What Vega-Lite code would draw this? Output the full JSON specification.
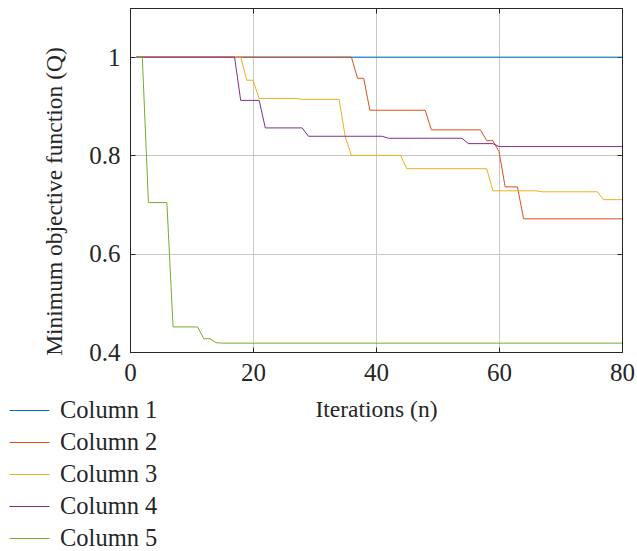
{
  "$schema": "https://vega.github.io/schema/vega-lite/v6.json",
  "width": 492,
  "height": 344,
  "autosize": {"type": "none"},
  "padding": {"left": 130, "top": 8, "right": 15, "bottom": 199},
  "background": "white",
  "config": {
    "font": "Liberation Serif",
    "view": {"stroke": "#262626", "strokeWidth": 1},
    "axis": {
      "labelFont": "Liberation Serif",
      "titleFont": "Liberation Serif",
      "labelFontSize": 25,
      "titleFontSize": 23.5,
      "labelColor": "#262626",
      "titleColor": "#262626",
      "titleFontWeight": "normal",
      "domainColor": "#262626",
      "tickColor": "#262626",
      "gridColor": "#c8c8c8",
      "gridOpacity": 1
    },
    "legend": {
      "labelFont": "Liberation Serif",
      "labelFontSize": 24.5,
      "labelColor": "#262626"
    }
  },
  "data": {
    "values": [
      {"n": 1, "v": 1, "s": "Column 1"},
      {"n": 80, "v": 1, "s": "Column 1"},

      {"n": 1, "v": 1, "s": "Column 2"},
      {"n": 36, "v": 1, "s": "Column 2"},
      {"n": 37, "v": 0.957, "s": "Column 2"},
      {"n": 38, "v": 0.957, "s": "Column 2"},
      {"n": 39, "v": 0.892, "s": "Column 2"},
      {"n": 48, "v": 0.892, "s": "Column 2"},
      {"n": 49, "v": 0.852, "s": "Column 2"},
      {"n": 57, "v": 0.852, "s": "Column 2"},
      {"n": 58, "v": 0.830, "s": "Column 2"},
      {"n": 59, "v": 0.830, "s": "Column 2"},
      {"n": 60, "v": 0.808, "s": "Column 2"},
      {"n": 61, "v": 0.736, "s": "Column 2"},
      {"n": 63, "v": 0.736, "s": "Column 2"},
      {"n": 64, "v": 0.671, "s": "Column 2"},
      {"n": 80, "v": 0.671, "s": "Column 2"},

      {"n": 1, "v": 1, "s": "Column 3"},
      {"n": 18, "v": 1, "s": "Column 3"},
      {"n": 19, "v": 0.953, "s": "Column 3"},
      {"n": 20, "v": 0.953, "s": "Column 3"},
      {"n": 21, "v": 0.916, "s": "Column 3"},
      {"n": 27, "v": 0.916, "s": "Column 3"},
      {"n": 28, "v": 0.914, "s": "Column 3"},
      {"n": 34, "v": 0.914, "s": "Column 3"},
      {"n": 35, "v": 0.838, "s": "Column 3"},
      {"n": 36, "v": 0.800, "s": "Column 3"},
      {"n": 44, "v": 0.800, "s": "Column 3"},
      {"n": 45, "v": 0.773, "s": "Column 3"},
      {"n": 58, "v": 0.773, "s": "Column 3"},
      {"n": 59, "v": 0.728, "s": "Column 3"},
      {"n": 66, "v": 0.728, "s": "Column 3"},
      {"n": 67, "v": 0.726, "s": "Column 3"},
      {"n": 76, "v": 0.726, "s": "Column 3"},
      {"n": 77, "v": 0.710, "s": "Column 3"},
      {"n": 80, "v": 0.710, "s": "Column 3"},

      {"n": 1, "v": 1, "s": "Column 4"},
      {"n": 17, "v": 1, "s": "Column 4"},
      {"n": 18, "v": 0.912, "s": "Column 4"},
      {"n": 21, "v": 0.912, "s": "Column 4"},
      {"n": 22, "v": 0.856, "s": "Column 4"},
      {"n": 28, "v": 0.856, "s": "Column 4"},
      {"n": 29, "v": 0.839, "s": "Column 4"},
      {"n": 41, "v": 0.839, "s": "Column 4"},
      {"n": 42, "v": 0.835, "s": "Column 4"},
      {"n": 54, "v": 0.835, "s": "Column 4"},
      {"n": 55, "v": 0.824, "s": "Column 4"},
      {"n": 59, "v": 0.824, "s": "Column 4"},
      {"n": 60, "v": 0.818, "s": "Column 4"},
      {"n": 80, "v": 0.818, "s": "Column 4"},

      {"n": 1, "v": 1, "s": "Column 5"},
      {"n": 2, "v": 1, "s": "Column 5"},
      {"n": 3, "v": 0.704, "s": "Column 5"},
      {"n": 6, "v": 0.704, "s": "Column 5"},
      {"n": 7, "v": 0.451, "s": "Column 5"},
      {"n": 11, "v": 0.451, "s": "Column 5"},
      {"n": 12, "v": 0.427, "s": "Column 5"},
      {"n": 13, "v": 0.427, "s": "Column 5"},
      {"n": 14, "v": 0.419, "s": "Column 5"},
      {"n": 15, "v": 0.418, "s": "Column 5"},
      {"n": 80, "v": 0.418, "s": "Column 5"}
    ]
  },
  "layer": [
    {
      "mark": {"type": "line", "strokeWidth": 1, "clip": true},
      "encoding": {
        "x": {
          "field": "n", "type": "quantitative",
          "scale": {"domain": [0, 80], "nice": false},
          "axis": {"values": [0, 20, 40, 60, 80], "format": "d", "title": "Iterations (n)", "tickSize": -5, "labelPadding": 13, "titlePadding": 12, "labelFlush": false, "grid": true}
        },
        "y": {
          "field": "v", "type": "quantitative",
          "scale": {"domain": [0.4, 1.1], "nice": false, "zero": false},
          "axis": {"values": [0.4, 0.6, 0.8, 1], "format": "~g", "title": "Minimum objective function (Q)", "titleY": 193, "tickSize": -5, "labelPadding": 15, "titlePadding": 22, "labelFlush": false, "grid": true}
        },
        "color": {
          "field": "s", "type": "nominal",
          "scale": {"domain": ["Column 1", "Column 2", "Column 3", "Column 4", "Column 5"], "range": ["#0072BD", "#D95319", "#EDB120", "#7E2F8E", "#77AC30"]},
          "legend": {"title": null, "orient": "none", "legendX": -121, "legendY": 382, "symbolType": "stroke", "symbolSize": 1600, "symbolStrokeWidth": 1, "labelOffset": 10, "rowPadding": -12}
        },
        "order": {"field": "n", "type": "quantitative"}
      }
    },
    {
      "mark": {"type": "line", "strokeOpacity": 0},
      "encoding": {
        "x": {
          "field": "n", "type": "quantitative",
          "axis": {"orient": "top", "values": [0, 20, 40, 60, 80], "labels": false, "title": null, "tickSize": -5, "grid": false}
        },
        "y": {
          "field": "v", "type": "quantitative",
          "axis": {"orient": "right", "values": [0.4, 0.6, 0.8, 1], "labels": false, "title": null, "tickSize": -5, "grid": false}
        },
        "detail": {"field": "s"}
      }
    }
  ],
  "resolve": {"axis": {"x": "independent", "y": "independent"}}
}
